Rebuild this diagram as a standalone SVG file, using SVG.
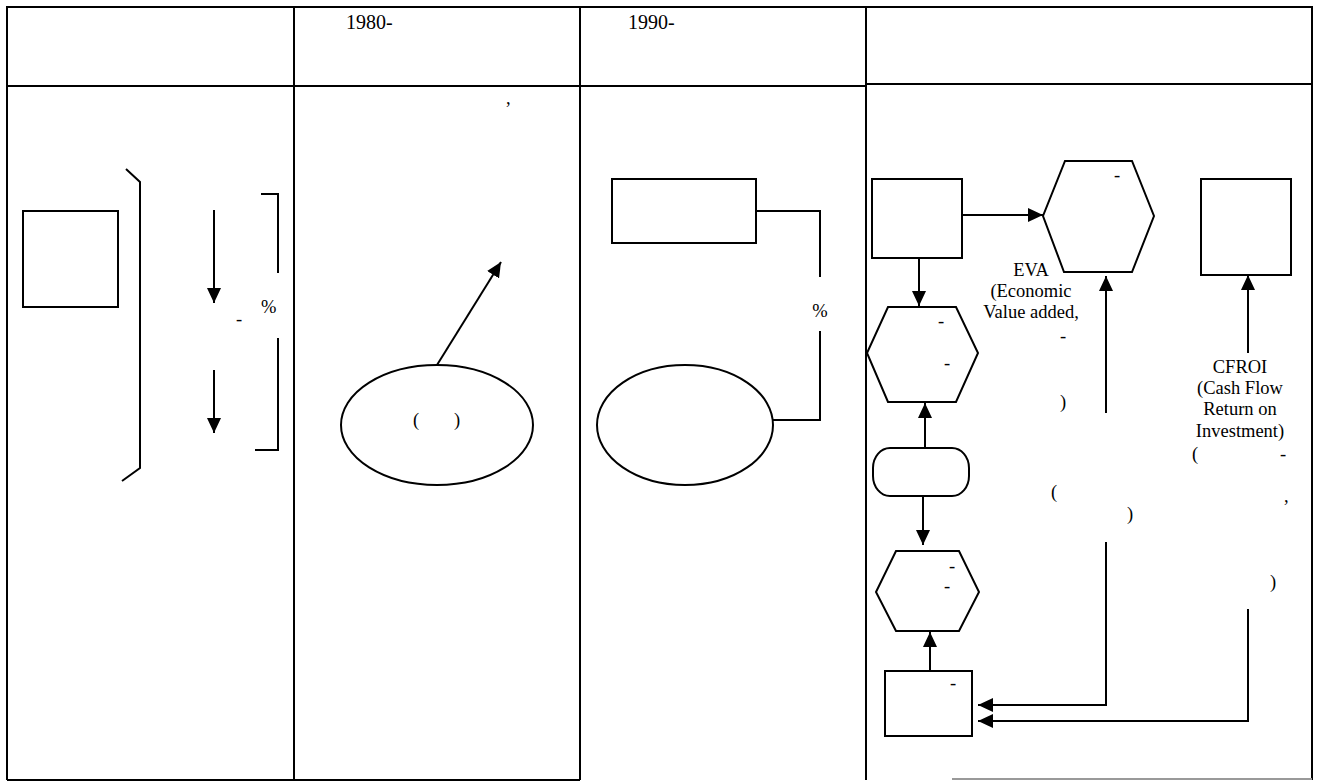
<svg xmlns="http://www.w3.org/2000/svg" width="1320" height="781" viewBox="0 0 1320 781">
<style>
.t{font-family:"Liberation Serif","Times New Roman",serif;font-size:18.5px;fill:#000}
.h{font-family:"Liberation Serif","Times New Roman",serif;font-size:20px;fill:#000}
.c{text-anchor:middle}
.ln{fill:none;stroke:#000;stroke-width:2}
.shape{fill:#fff;stroke:#000;stroke-width:2}
.arr{fill:none;stroke:#000;stroke-width:2;marker-end:url(#ah)}
</style>
<defs>
<marker id="ah" markerUnits="userSpaceOnUse" markerWidth="16" markerHeight="14" refX="15" refY="7" orient="auto">
<path d="M0,0 L15,7 L0,14 z" fill="#000"/>
</marker>
</defs>
<rect width="1320" height="781" fill="#fff"/>
<g id="table">
<line class="ln" x1="6" y1="7" x2="1313" y2="7"/>
<line class="ln" x1="7" y1="7" x2="7" y2="780"/>
<line class="ln" x1="294" y1="7" x2="294" y2="780"/>
<line class="ln" x1="580" y1="7" x2="580" y2="780"/>
<line class="ln" x1="866" y1="7" x2="866" y2="780"/>
<line class="ln" x1="1312" y1="7" x2="1312" y2="780"/>
<line class="ln" x1="7" y1="86" x2="866" y2="86"/>
<line class="ln" x1="866" y1="84" x2="1312" y2="84"/>
<line class="ln" x1="7" y1="780" x2="580" y2="780"/>
<line x1="952" y1="779" x2="1312" y2="779" stroke="#999" stroke-width="2"/>
<text class="h" x="346" y="29">1980-</text>
<text class="h" x="628" y="29">1990-</text>
</g>
<g id="col1">
<rect id="n-c1-box" class="shape" x="23" y="211" width="95" height="96"/>
<polyline class="ln" points="126,169 140,182 140,468 122,481"/>
<polyline class="ln" points="261,194 278,194 278,273"/>
<polyline class="ln" points="278,338 278,450 255,450"/>
<text class="t" x="236" y="325">-</text>
<text class="t" x="261" y="313">%</text>
</g>
<g id="col2">
<ellipse id="n-c2-ell" class="shape" cx="437" cy="425" rx="96" ry="60"/>
<text class="t" x="413" y="426">(</text>
<text class="t" x="454" y="426">)</text>
<text class="t" x="506" y="104">,</text>
</g>
<g id="col3">
<rect id="n-c3-box" class="shape" x="612" y="179" width="144" height="64"/>
<ellipse id="n-c3-ell" class="shape" cx="685" cy="425" rx="88" ry="60"/>
<text class="t c" x="820" y="317">%</text>
</g>
<g id="col4">
<rect id="n-a" class="shape" x="872" y="179" width="90" height="79"/>
<polygon id="n-hex1" class="shape" points="1065,161 1132,161 1154,216 1132,272 1064,272 1043,216"/>
<rect id="n-b" class="shape" x="1201" y="179" width="90" height="96"/>
<polygon id="n-hex2" class="shape" points="888,307 956,307 978,353 956,402 888,402 867,353"/>
<rect id="n-round" class="shape" x="873" y="448" width="96" height="48" rx="17" ry="20"/>
<polygon id="n-hex3" class="shape" points="896,551 959,551 979,592 959,631 896,631 876,592"/>
<rect id="n-c" class="shape" x="885" y="671" width="87" height="65"/>
<text class="t" x="1114" y="181">-</text>
<text class="t" x="938" y="327">-</text>
<text class="t" x="944" y="369">-</text>
<text class="t" x="949" y="572">-</text>
<text class="t" x="944" y="592">-</text>
<text class="t" x="950" y="689">-</text>
<text class="t c" x="1031" y="276">EVA</text>
<text class="t c" x="1031" y="297">(Economic</text>
<text class="t c" x="1031" y="318">Value added,</text>
<text class="t" x="1060" y="342">-</text>
<text class="t" x="1060" y="408">)</text>
<text class="t c" x="1240" y="373">CFROI</text>
<text class="t c" x="1240" y="394">(Cash Flow</text>
<text class="t c" x="1240" y="415">Return on</text>
<text class="t c" x="1240" y="437">Investment)</text>
<text class="t" x="1192" y="460">(</text>
<text class="t" x="1280" y="460">-</text>
<text class="t" x="1284" y="502">,</text>
<text class="t" x="1270" y="588">)</text>
<text class="t" x="1051" y="498">(</text>
<text class="t" x="1127" y="520">)</text>
</g>
<g id="connectors">
<line class="arr" x1="214" y1="210" x2="214" y2="303"/>
<line class="arr" x1="214" y1="370" x2="214" y2="433"/>
<line class="arr" x1="437" y1="365" x2="501" y2="262"/>
<polyline class="ln" points="756,211 820,211 820,277"/>
<polyline class="ln" points="773,420 820,420 820,331"/>
<line class="arr" x1="962" y1="215" x2="1043" y2="215"/>
<line class="arr" x1="919" y1="258" x2="919" y2="306"/>
<line class="arr" x1="925" y1="447" x2="925" y2="403"/>
<line class="arr" x1="923" y1="496" x2="923" y2="545"/>
<line class="arr" x1="930" y1="670" x2="930" y2="632"/>
<line class="arr" x1="1106" y1="413" x2="1106" y2="276"/>
<line class="arr" x1="1248" y1="353" x2="1248" y2="275"/>
<polyline class="arr" points="1106,542 1106,705 978,705"/>
<polyline class="arr" points="1248,609 1248,721 978,721"/>
</g>
</svg>
